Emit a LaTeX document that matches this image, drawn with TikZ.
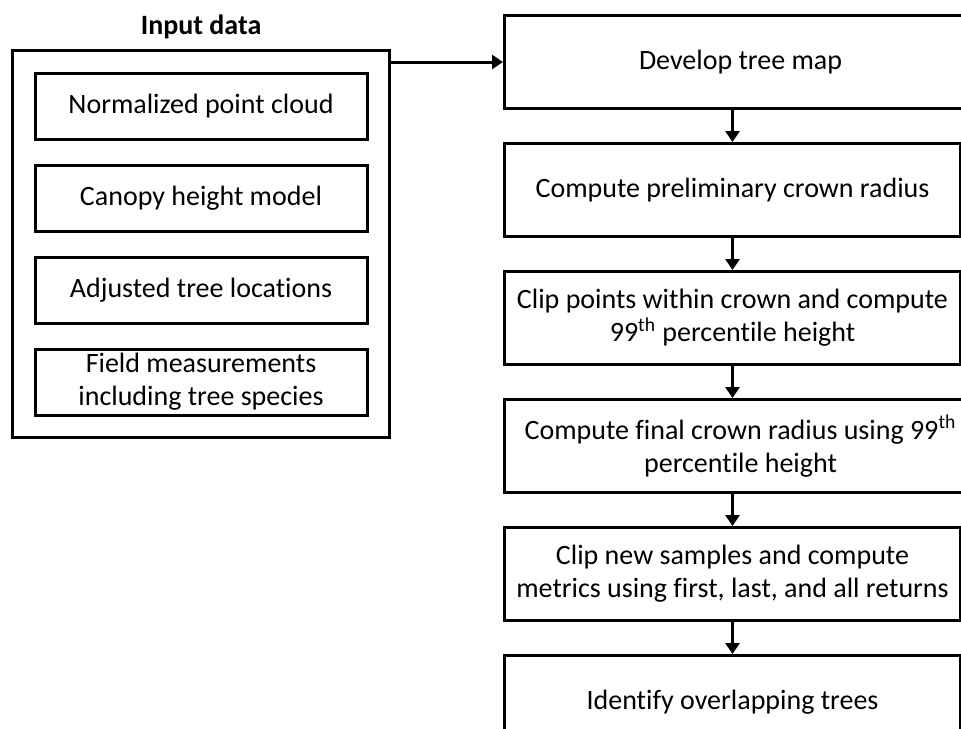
\documentclass[tikz,border=0pt]{standalone}
\usepackage{fontspec}
\setmainfont[Ligatures=NoCommon]{Carlito}
\usetikzlibrary{positioning,fit,arrows.meta}

\begin{document}
\begin{tikzpicture}[
    node distance=11.5pt,
    every node/.style={font=\fontsize{14pt}{16.5pt}\selectfont},
    inbox/.style={draw, line width=1.5pt, minimum width=166pt, minimum height=33pt, align=center, inner sep=0pt},
    stepbox/.style={draw, line width=1.5pt, minimum width=228pt, minimum height=46.5pt, align=center, inner sep=0pt},
    widebox/.style={stepbox, minimum width=236pt},
    arr/.style={line width=1.5pt, -{Triangle[width=7pt,length=5.5pt]}}
]
\useasboundingbox (0,0) rectangle (480.5pt,-364pt);
\clip (0,0) rectangle (480.5pt,-364pt);

% input data
\node[inbox] (cloud) at (100.5pt,-53pt) {Normalized point cloud};
\node[inbox, below=of cloud] (chm) {Canopy height model};
\node[inbox, below=of chm] (loc) {Adjusted tree locations};
\node[inbox, below=of loc] (field) {Field measurements\\including tree species};
\node[draw, line width=1.5pt, inner sep=10.5pt, fit=(cloud)(field)] (input) {};
\node[above=1.5pt of input, font=\fontsize{14pt}{16.5pt}\selectfont\bfseries] (title) {Input data};

% processing steps
\node[widebox, anchor=west] (dev) at (251.5pt,-31pt) {Develop tree map};
\node[stepbox, below=16pt of dev.south west, anchor=north west] (crown) {Compute preliminary crown radius};
\node[stepbox, below=16pt of crown.south west, anchor=north west] (clip) {Clip points within crown and compute\\99\textsuperscript{th} percentile height};
\node[widebox, below=16pt of clip.south west, anchor=north west] (final) {Compute final crown radius using 99\textsuperscript{th}\\percentile height};
\node[stepbox, below=16pt of final.south west, anchor=north west] (samp) {Clip new samples and compute\\metrics using first, last, and all returns};
\node[stepbox, below=16pt of samp.south west, anchor=north west] (overlap) {Identify overlapping trees};

% arrows
\draw[arr] (input.east |- dev.west) -- (dev.west);
\draw[arr] (dev.south -| crown.north) -- (crown.north);
\draw[arr] (crown) -- (clip);
\draw[arr] (clip.south) -- (clip.south |- final.north);
\draw[arr] (final.south -| samp.north) -- (samp.north);
\draw[arr] (samp) -- (overlap);

\end{tikzpicture}
\end{document}
